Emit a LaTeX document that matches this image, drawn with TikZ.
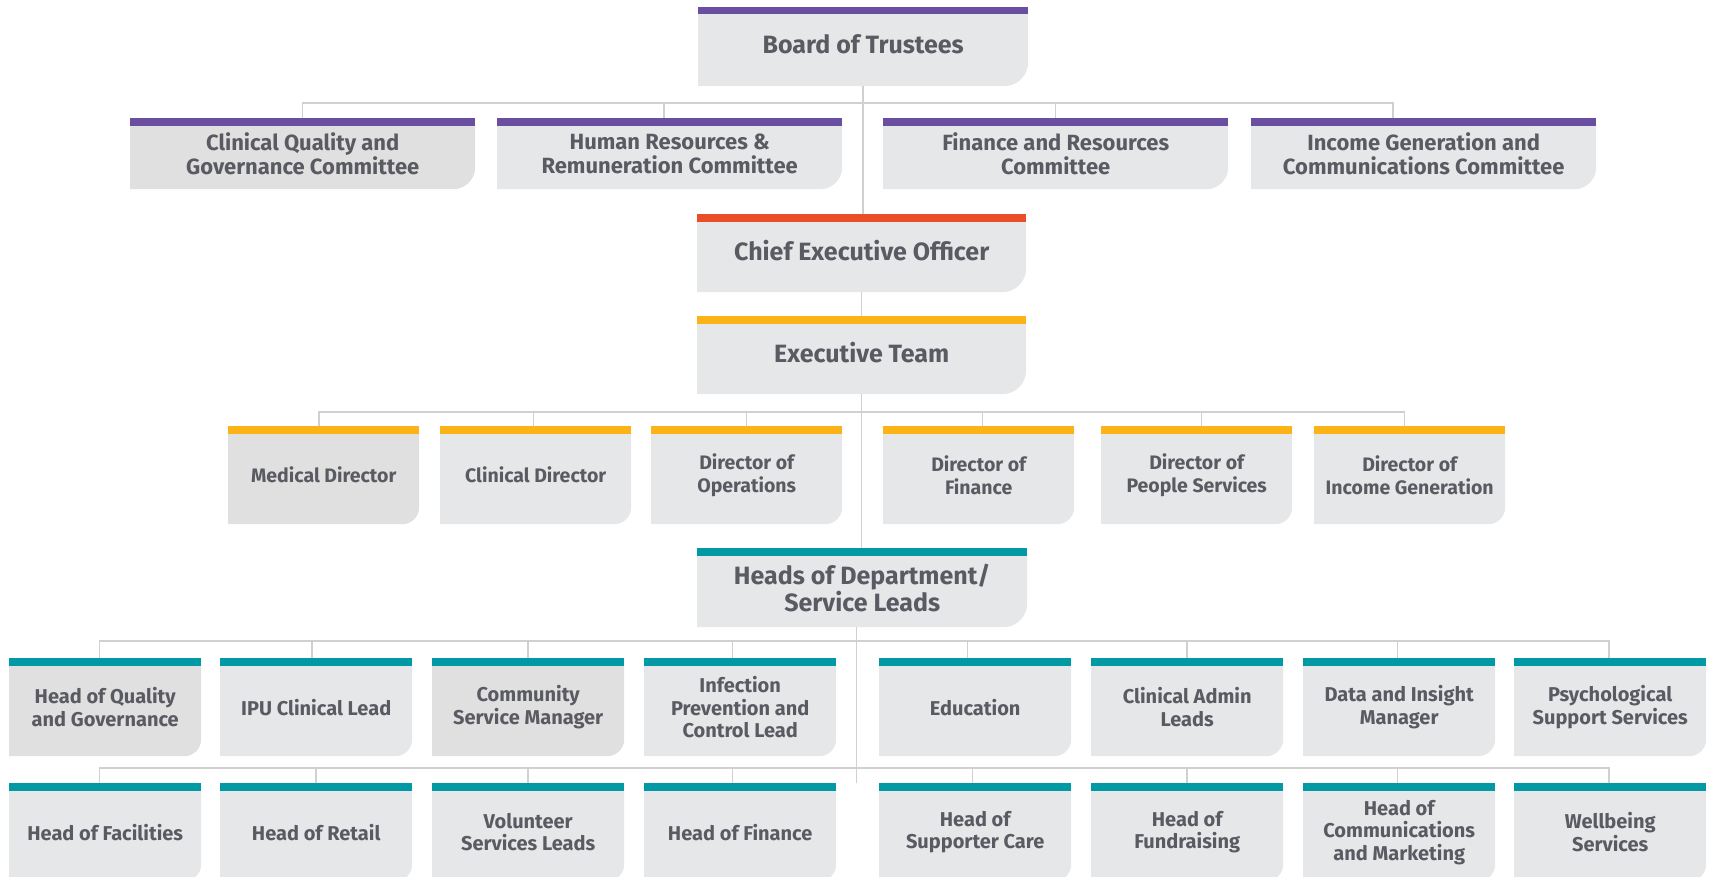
\documentclass[tikz,border=0pt]{standalone}
\usepackage{fontspec}
\setmainfont{Fira Sans}

\definecolor{trusteepurple}{HTML}{6A4E9F}
\definecolor{ceored}{HTML}{E94E26}
\definecolor{execgold}{HTML}{FBB317}
\definecolor{headteal}{HTML}{0199A3}
\definecolor{boxgrey}{HTML}{E6E7E9}
\definecolor{boxgreydark}{HTML}{E0E0E0}
\definecolor{labelgrey}{HTML}{5A5B62}
\definecolor{linegrey}{HTML}{D0D0D0}

\tikzset{
  boxfill/.code={\def\orgfill{#1}},
  barcolor/.code={\def\orgbar{#1}},
  cornerradius/.code={\def\orgrad{#1}},
  barheight/.code={\def\orgbarh{#1}},
  orgbox/.style={
    anchor=north west, inner sep=0pt, align=center, text=labelgrey,
    boxfill=boxgrey, barheight=8pt, cornerradius=17pt,
    path picture={
      \fill[\orgfill] (path picture bounding box.north west)
        -- (path picture bounding box.north east)
        -- ([yshift=\orgrad]path picture bounding box.south east)
        .. controls ([yshift=0.448*\orgrad]path picture bounding box.south east)
           and ([xshift=-0.448*\orgrad]path picture bounding box.south east)
        .. ([xshift=-\orgrad]path picture bounding box.south east)
        -- (path picture bounding box.south west) -- cycle;
      \fill[\orgbar] (path picture bounding box.north west)
        rectangle ([yshift=-\orgbarh]path picture bounding box.north east);
    }},
  topbox/.style={orgbox, cornerradius=24pt, minimum width=330pt, minimum height=78pt,
    font=\fontsize{25}{27}\selectfont\bfseries},
  raised/.style={text depth=6pt},
  committee/.style={orgbox, barcolor=trusteepurple, cornerradius=22pt,
    minimum width=345pt, minimum height=71pt,
    font=\fontsize{22}{24.5}\selectfont\bfseries},
  director/.style={orgbox, barcolor=execgold, minimum width=191pt, minimum height=98pt,
    font=\fontsize{19.5}{23}\selectfont\bfseries},
  head/.style={orgbox, barcolor=headteal, minimum width=192pt, minimum height=98pt,
    font=\fontsize{20}{22.5}\selectfont\bfseries},
  conn/.style={draw=linegrey, line width=1.5pt},
}

\begin{document}
\begin{tikzpicture}[x=1pt, y=-1pt]
\useasboundingbox (0,0) rectangle (1710,876);
\clip (0,0) rectangle (1710,876);

% Board and its committees
\node[topbox, raised, barcolor=trusteepurple, barheight=7pt, minimum height=79pt] (board) at (698,7) {Board of Trustees};
\node[committee, boxfill=boxgreydark] (c1) at (130,118) {Clinical Quality and\\Governance Committee};
\node[committee] (c2) at (497,118) {Human Resources \&\\Remuneration Committee};
\node[committee] (c3) at (883,118) {Finance and Resources\\Committee};
\node[committee] (c4) at (1251,118) {Income Generation and\\Communications Committee};

% Executive levels
\node[topbox, raised, barcolor=ceored, minimum width=329pt] (ceo) at (697,214) {Chief Executive Officer};
\node[topbox, raised, barcolor=execgold, minimum width=329pt] (exec) at (697,316) {Executive Team};

% Directors
\node[director, boxfill=boxgreydark] (d1) at (228,426) {Medical Director};
\node[director] (d2) at (440,426) {Clinical Director};
\node[director] (d3) at (651,426) {Director of\\Operations};
\node[director] (d4) at (883,426) {Director of\\Finance};
\node[director] (d5) at (1101,426) {Director of\\People Services};
\node[director] (d6) at (1314,426) {Director of\\Income Generation};

% Heads of department
\node[topbox, barcolor=headteal, minimum height=79pt] (hod) at (697,548) {Heads of Department/\\Service Leads};

\node[head, boxfill=boxgreydark] (h1) at (9,658) {Head of Quality\\and Governance};
\node[head] (h2) at (220,658) {IPU Clinical Lead};
\node[head, boxfill=boxgreydark] (h3) at (432,658) {Community\\Service Manager};
\node[head] (h4) at (644,658) {Infection\\Prevention and\\Control Lead};
\node[head] (h5) at (879,658) {Education};
\node[head] (h6) at (1091,658) {Clinical Admin\\Leads};
\node[head] (h7) at (1303,658) {Data and Insight\\Manager};
\node[head] (h8) at (1514,658) {Psychological\\Support Services};

\node[head] (k1) at (9,783) {Head of Facilities};
\node[head] (k2) at (220,783) {Head of Retail};
\node[head] (k3) at (432,783) {Volunteer\\Services Leads};
\node[head] (k4) at (644,783) {Head of Finance};
\node[head] (k5) at (879,783) {Head of\\Supporter Care};
\node[head] (k6) at (1091,783) {Head of\\Fundraising};
\node[head] (k7) at (1303,783) {Head of\\Communications\\and Marketing};
\node[head] (k8) at (1514,783) {Wellbeing\\Services};

% Reporting lines
\draw[conn] (board.south) -- (board.south |- ceo.north);
\draw[conn] (c1.north) -- ++(0,-15) -| ([xshift=-30.5pt]c4.north);
\draw[conn] ([xshift=-5.5pt]c2.north) -- ++(0,-15);
\draw[conn] (c3.north) -- ++(0,-15);

\draw[conn] (ceo.south) -- (ceo.south |- exec.north);
\draw[conn] (exec.south) -- (exec.south |- hod.north);

\draw[conn] ([xshift=-4.5pt]d1.north) -- ++(0,-14) -| ([xshift=-5pt]d6.north);
\draw[conn] ([xshift=-2pt]d2.north) -- ++(0,-14);
\draw[conn] (d3.north) -- ++(0,-14);
\draw[conn] ([xshift=4pt]d4.north) -- ++(0,-14);
\draw[conn] ([xshift=5pt]d5.north) -- ++(0,-14);

\draw[conn] ([xshift=-5.5pt]hod.south) -- ([xshift=-5.5pt]hod.south |- k1.north) -- ++(0,-15);

\draw[conn] ([xshift=-5.5pt]h1.north) -- ++(0,-17) -| ([xshift=-1pt]h8.north);
\draw[conn] ([xshift=-4pt]h2.north) -- ++(0,-17);
\draw[conn] (h3.north) -- ++(0,-17);
\draw[conn] ([xshift=-7.5pt]h4.north) -- ++(0,-17);
\draw[conn] ([xshift=-7.5pt]h5.north) -- ++(0,-17);
\draw[conn] (h6.north) -- ++(0,-17);
\draw[conn] ([xshift=-1.5pt]h7.north) -- ++(0,-17);

\draw[conn] ([xshift=-5.5pt]k1.north) -- ++(0,-15) -| ([xshift=-1pt]k8.north);
\draw[conn] (k2.north) -- ++(0,-15);
\draw[conn] (k3.north) -- ++(0,-15);
\draw[conn] ([xshift=-7.5pt]k4.north) -- ++(0,-15);
\draw[conn] ([xshift=-2.5pt]k5.north) -- ++(0,-15);
\draw[conn] (k6.north) -- ++(0,-15);
\draw[conn] ([xshift=-1.5pt]k7.north) -- ++(0,-15);
\end{tikzpicture}
\end{document}
